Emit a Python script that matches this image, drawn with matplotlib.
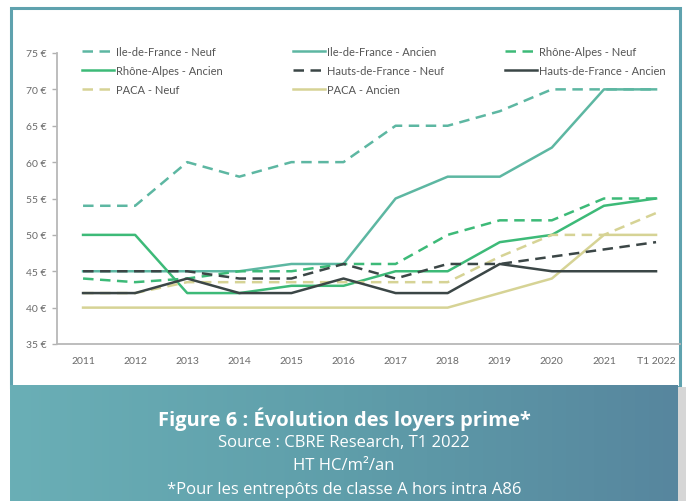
import matplotlib.pyplot as plt
import numpy as np
from matplotlib.patches import Rectangle
from matplotlib.colors import LinearSegmentedColormap

plt.rcParams['font.family'] = ['Lato', 'DejaVu Sans']

annees = ['2011', '2012', '2013', '2014', '2015', '2016', '2017', '2018', '2019', '2020', '2021', 'T1 2022']

idf_neuf = [54, 54, 60, 58, 60, 60, 65, 65, 67, 70, 70, 70]
idf_ancien = [45, 45, 45, 45, 46, 46, 55, 58, 58, 62, 70, 70]
ra_neuf = [44, 43.5, 44, 45, 45, 46, 46, 50, 52, 52, 55, 55]
ra_ancien = [50, 50, 42, 42, 43, 43, 45, 45, 49, 50, 54, 55]
hdf_neuf = [45, 45, 45, 44, 44, 46, 44, 46, 46, 47, 48, 49]
hdf_ancien = [42, 42, 44, 42, 42, 44, 42, 42, 46, 45, 45, 45]
paca_neuf = [42, 42, 43.5, 43.5, 43.5, 43.5, 43.5, 43.5, 47, 50, 50, 53]
paca_ancien = [40, 40, 40, 40, 40, 40, 40, 40, 42, 44, 50, 50]

teal = '#5db7a2'
vert = '#3dba78'
noir = '#3b4646'
jaune = '#d6d395'

W, H = 688, 502
fig = plt.figure(figsize=(W / 100, H / 100), dpi=100)

# cadre bleu-vert autour du graphique
fig.patches.append(Rectangle((11 / W, 1 - 388 / H), 669 / W, 379 / H,
                             transform=fig.transFigure, facecolor='white',
                             edgecolor='#5fa2ae', linewidth=2.2, zorder=-5))

# bandeau du bas en dégradé, avec une ombre à droite
ombre = fig.add_axes([14 / W, 0, 672 / W, 114 / H])
ombre.axis('off')
ombre.add_patch(Rectangle((0, 0), 1, 1, transform=ombre.transAxes, color='#d6d6d6'))
bandeau = fig.add_axes([10 / W, 0, 668 / W, 116 / H])
grad = np.linspace(0, 1, 256).reshape(1, -1)
cmap = LinearSegmentedColormap.from_list('bandeau', ['#6aafb6', '#5f9eaa', '#57869e'])
bandeau.imshow(grad, aspect='auto', cmap=cmap, extent=[0, 1, 0, 1])
bandeau.axis('off')

txt = dict(ha='center', va='center', color='white', family=['Open Sans', 'DejaVu Sans'])
fig.text(0.5, 1 - 419 / H, 'Figure 6 : Évolution des loyers prime*', fontsize=14.5, fontweight='bold', **txt)
fig.text(0.5, 1 - 443 / H, 'Source : CBRE Research, T1 2022', fontsize=12, **txt)
fig.text(0.5, 1 - 466 / H, 'HT HC/m²/an', fontsize=12, **txt)
fig.text(0.5, 1 - 490 / H, '*Pour les entrepôts de classe A hors intra A86', fontsize=12, **txt)

ax = fig.add_axes([57 / W, 1 - 345 / H, (680 - 57) / W, (345 - 54) / H])
ax.patch.set_alpha(0)
x = np.arange(len(annees))
lw = 1.8
dash = (4.2, 2.6)

series = [
    (idf_neuf, teal, True, 'Ile-de-France - Neuf', 3),
    (idf_ancien, teal, False, 'Ile-de-France - Ancien', 2),
    (ra_neuf, vert, True, 'Rhône-Alpes - Neuf', 4),
    (ra_ancien, vert, False, 'Rhône-Alpes - Ancien', 3),
    (hdf_neuf, noir, True, 'Hauts-de-France - Neuf', 5),
    (hdf_ancien, noir, False, 'Hauts-de-France - Ancien', 4),
    (paca_neuf, jaune, True, 'PACA - Neuf', 3),
    (paca_ancien, jaune, False, 'PACA - Ancien', 2),
]
handles = {}
for vals, col, tirets, nom, z in series:
    if tirets:
        l, = ax.plot(x, vals, color=col, lw=lw, dashes=dash, label=nom, zorder=z)
    else:
        l, = ax.plot(x, vals, color=col, lw=lw, label=nom, zorder=z)
    handles[nom] = l

ax.set_xlim(-0.5, 11.46)
ax.set_ylim(35, 75)
ax.set_yticks(range(35, 80, 5))
ax.set_yticklabels([f'{v} €' for v in range(35, 80, 5)])
ax.set_xticks(x)
ax.set_xticklabels(annees)
ax.tick_params(axis='y', length=3.5, width=1, color='#b0b0b0', labelsize=7.5, labelcolor='#6a6a6a', pad=4)
ax.tick_params(axis='x', length=0, labelsize=7.5, labelcolor='#6a6a6a', pad=9)
for s in ['top', 'right']:
    ax.spines[s].set_visible(False)
for s in ['left', 'bottom']:
    ax.spines[s].set_color('#b8b8b8')
    ax.spines[s].set_linewidth(1.3)

colonnes = [
    (82, ['Ile-de-France - Neuf', 'Rhône-Alpes - Ancien', 'PACA - Neuf']),
    (293, ['Ile-de-France - Ancien', 'Hauts-de-France - Neuf', 'PACA - Ancien']),
    (505, ['Rhône-Alpes - Neuf', 'Hauts-de-France - Ancien']),
]
for xpos, noms in colonnes:
    fig.legend([handles[n] for n in noms], noms, loc='upper left',
               bbox_to_anchor=(xpos / W, 1 - 47 / H), frameon=False, fontsize=8,
               handlelength=2.9, handletextpad=0.2, labelspacing=0.72,
               borderpad=0, borderaxespad=0, labelcolor='#555555')

fig.savefig('out.png', dpi=100)
